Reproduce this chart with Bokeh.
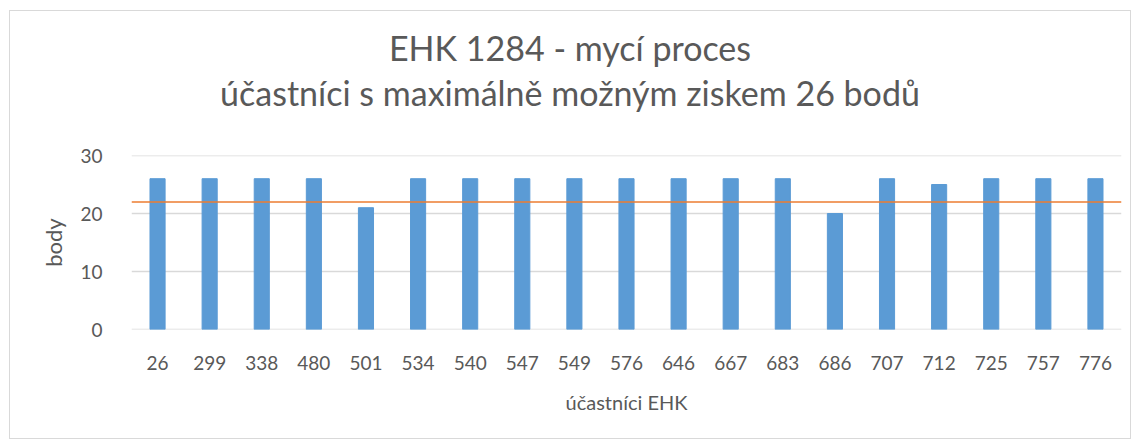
from bokeh.plotting import figure
from bokeh.models import Span, FixedTicker, Div
from bokeh.layouts import column
from bokeh.embed import file_html
from bokeh.resources import INLINE

participants = ["26", "299", "338", "480", "501", "534", "540", "547", "549", "576",
                "646", "667", "683", "686", "707", "712", "725", "757", "776"]
points = [26, 26, 26, 26, 21, 26, 26, 26, 26, 26, 26, 26, 26, 20, 26, 25, 26, 26, 26]
threshold = 22
y_ticks = [0, 10, 20, 30]
title_line1 = "EHK 1284 - mycí proces"
title_line2 = "účastníci s maximálně možným ziskem 26 bodů"

FONT = "Lato"
GRAY = "#595959"

title_html = (
    '<div style="margin:0;padding:14px 0 0 24px;width:1096px;text-align:center;'
    f'font-family:{FONT};font-size:34px;line-height:45px;color:{GRAY};">'
    f"{title_line1}<br>{title_line2}</div>"
)
title_div = Div(text=title_html, width=1120, height=134,
                styles={"overflow": "hidden", "margin": "0", "padding": "0"})

p = figure(x_range=participants, y_range=(0, 30), width=1120, height=293,
           output_backend="svg", toolbar_location=None,
           min_border_left=121, min_border_right=9, min_border_top=10, min_border_bottom=109)

p.yaxis.ticker = FixedTicker(ticks=y_ticks)
p.xgrid.grid_line_color = None
p.ygrid.grid_line_color = None

# horizontal gridlines drawn as glyphs behind the bars
p.hspan(y=y_ticks, line_color="#d9d9d9", line_width=1.5)
p.vbar(x=participants, top=points, width=0.29, color="#5B9BD5")
p.add_layout(Span(location=threshold, dimension="width", line_color="#ED7D31", line_width=1.5))

p.outline_line_color = None

for ax in (p.xaxis, p.yaxis):
    ax.axis_line_color = None
    ax.major_tick_line_color = None
    ax.minor_tick_line_color = None
    ax.major_label_text_font = FONT
    ax.major_label_text_font_size = "19px"
    ax.major_label_text_color = GRAY
    ax.axis_label_text_font = FONT
    ax.axis_label_text_font_style = "normal"
    ax.axis_label_text_color = GRAY

p.xaxis.axis_label = "účastníci EHK"
p.yaxis.axis_label = "body"
p.xaxis.axis_label_text_font_size = "20px"
p.yaxis.axis_label_text_font_size = "22px"
p.x_range.range_padding = 0
p.xaxis.major_label_standoff = 20
p.xaxis.axis_label_standoff = 17
p.yaxis.major_label_standoff = 23
p.yaxis.axis_label_standoff = 10

layout = column(title_div, p, spacing=0,
                styles={"border": "1px solid #d9d9d9", "margin-left": "9px", "margin-top": "10px"})

open("out.html", "w").write(file_html(layout, INLINE))
